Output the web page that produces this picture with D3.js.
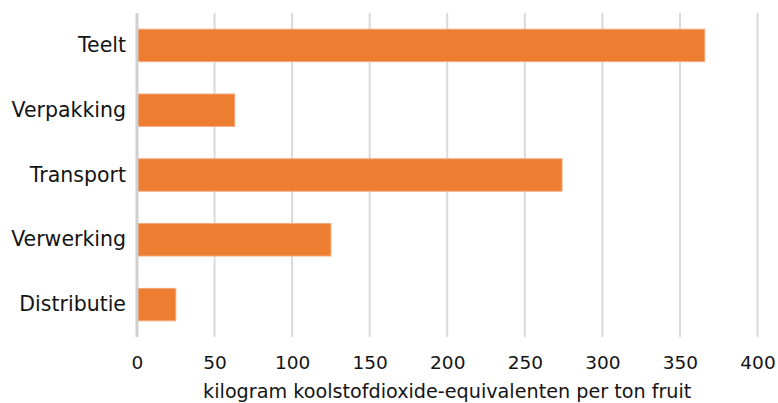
<!DOCTYPE html>
<html>
<head>
<meta charset="utf-8">
<script src="https://cdn.jsdelivr.net/npm/d3@7"></script>
<style>
  body { margin: 0; background: #fff; }
  svg { font-family: "DejaVu Sans", Verdana, sans-serif; }
</style>
</head>
<body>
<svg id="chart"></svg>
<script>
const categories = ["Teelt", "Verpakking", "Transport", "Verwerking", "Distributie"];
const values = [366, 63, 274, 125, 25];
const tickValues = [0, 50, 100, 150, 200, 250, 300, 350, 400];
const axisTitle = "kilogram koolstofdioxide-equivalenten per ton fruit";

const width = 778;
const height = 403;
const margin = {top: 13, right: 20, bottom: 66, left: 137};

const svg = d3.select("#chart")
    .attr("width", width)
    .attr("height", height);

const x = d3.scaleLinear()
    .domain([0, 400])
    .range([margin.left, 757.5]);

const y = d3.scaleBand()
    .domain(categories)
    .range([margin.top, height - margin.bottom])
    .paddingInner(0.5)
    .paddingOuter(0.25);

// gridlines
svg.selectAll(".grid")
    .data(tickValues.filter(d => d > 0))
    .enter()
    .append("line")
    .attr("class", "grid")
    .attr("x1", d => x(d))
    .attr("x2", d => x(d))
    .attr("y1", margin.top)
    .attr("y2", height - margin.bottom)
    .attr("stroke", "#d9d9d9")
    .attr("stroke-width", 2);

// bars
svg.selectAll(".bar")
    .data(values)
    .enter()
    .append("rect")
    .attr("class", "bar")
    .attr("x", x(0))
    .attr("y", (d, i) => y(categories[i]))
    .attr("width", d => x(d) - x(0))
    .attr("height", y.bandwidth())
    .attr("fill", "#ed7d31")
    .attr("stroke", "#f4a878")
    .attr("stroke-width", 1);

// zero axis line
svg.append("line")
    .attr("x1", x(0))
    .attr("x2", x(0))
    .attr("y1", margin.top)
    .attr("y2", height - margin.bottom)
    .attr("stroke", "#d0d0d0")
    .attr("stroke-width", 3);

// category labels
const yAxis = svg.append("g")
    .attr("transform", `translate(${x(0) - 11},0)`)
    .call(d3.axisLeft(y).tickSize(0).tickPadding(0));
yAxis.select(".domain").remove();
yAxis.selectAll("text")
    .attr("font-size", 20.5)
    .attr("font-family", "DejaVu Sans, Verdana, sans-serif")
    .attr("fill", "#141414");

// tick labels
const xAxis = svg.append("g")
    .attr("transform", `translate(0,${height - margin.bottom})`)
    .call(d3.axisBottom(x).tickValues(tickValues).tickSize(0).tickPadding(0));
xAxis.select(".domain").remove();
xAxis.selectAll("text")
    .attr("dy", null)
    .attr("y", 369 - (height - margin.bottom))
    .attr("font-size", 18.5)
    .attr("font-family", "DejaVu Sans, Verdana, sans-serif")
    .attr("fill", "#141414");

// axis title
svg.append("text")
    .attr("x", (x(0) + x(400)) / 2)
    .attr("y", 397.5)
    .attr("text-anchor", "middle")
    .attr("font-size", 19.2)
    .attr("fill", "#141414")
    .text(axisTitle);
</script>
</body>
</html>
